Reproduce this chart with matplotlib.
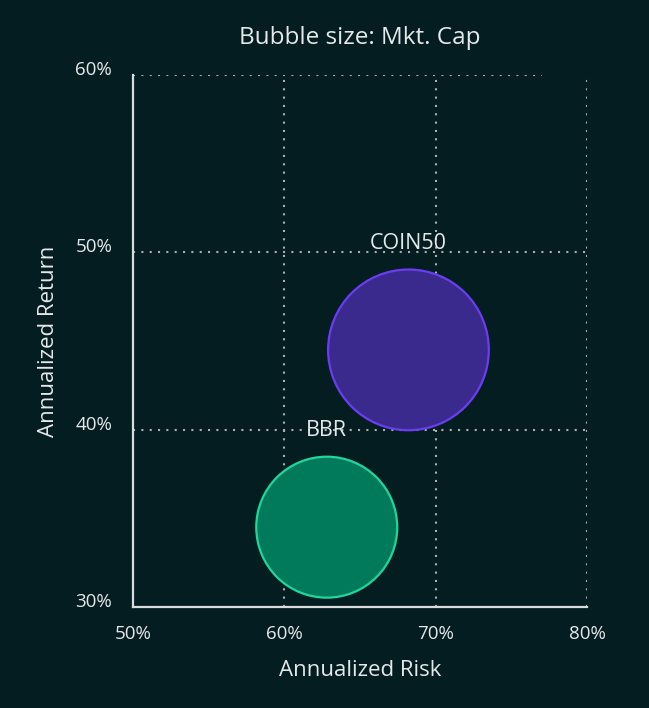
import numpy as np
import matplotlib
matplotlib.use('Agg')
import matplotlib.pyplot as plt

# data
names = ['BBR', 'COIN50']
risk = [62.8, 68.2]          # annualized risk, %
ret = [34.5, 44.5]           # annualized return, %
mkt_cap = [1.0, 1.30]        # relative market cap (bubble area)

x_ticks = [50, 60, 70, 80]
y_ticks = [30, 40, 50, 60]

BG = '#041d21'
TEXT = '#e6e9ea'
face = ['#007a5a', '#3b2a8e']
edge = ['#1fd69b', '#6b3df0']

plt.rcParams['font.family'] = ['Open Sans', 'DejaVu Sans']

fig = plt.figure(figsize=(6.49, 7.08), dpi=100, facecolor=BG)
ax = fig.add_axes([0.205, 0.1427, 0.6995, 0.7513], facecolor=BG)
ax.set_xlim(50, 80)
ax.set_ylim(30, 60)

# dotted grid; top line stops short of the right edge like the original
grid_kw = dict(color='#a9b0b2', lw=1.5, ls=(0, (1, 3)), zorder=0)
for yt in y_ticks[1:]:
    xmax = 0.9 if yt == 60 else 1.0
    ax.axhline(yt, xmin=0, xmax=xmax, **grid_kw)
for xt in x_ticks[1:]:
    ax.axvline(xt, **grid_kw)

sizes = [m * 10300 for m in mkt_cap]
ax.scatter(risk, ret, s=sizes, c=face, edgecolors=edge, linewidths=1.6, zorder=3)

for n, x, y, s in zip(names, risk, ret, sizes):
    r = np.sqrt(s) / 2
    ax.annotate(n, (x, y), xytext=(0, r + 19), textcoords='offset points',
                ha='center', va='center', color=TEXT, fontsize=15.5, zorder=4)

for side in ['top', 'right']:
    ax.spines[side].set_visible(False)
for side in ['left', 'bottom']:
    ax.spines[side].set_color('#d8dcdd')
    ax.spines[side].set_linewidth(1.6)

ax.set_xticks(x_ticks)
ax.set_xticklabels([f'{t}%' for t in x_ticks])
ax.set_yticks(y_ticks)
ax.set_yticklabels([f'{t}%' for t in y_ticks])
ax.tick_params(length=0, colors=TEXT, labelsize=13.5)
ax.tick_params(axis='x', pad=13)
ax.tick_params(axis='y', pad=15)
for lbl in ax.get_yticklabels():
    lbl.set_va('baseline')

ax.set_xlabel('Annualized Risk', color=TEXT, fontsize=16, labelpad=12)
ax.set_ylabel('Annualized Return', color=TEXT, fontsize=16, labelpad=12)
ax.set_title('Bubble size: Mkt. Cap', color=TEXT, fontsize=17.5, pad=22)

fig.savefig('out.png', dpi=100, facecolor=BG)
